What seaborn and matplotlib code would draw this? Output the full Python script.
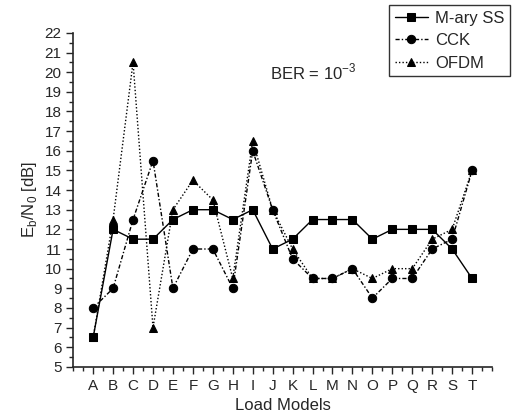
import numpy as np
import pandas as pd
import matplotlib
matplotlib.use("Agg")
import matplotlib.pyplot as plt
from matplotlib.ticker import MultipleLocator
import seaborn as sns

# load models on the x axis
models = list("ABCDEFGHIJKLMNOPQRST")

# Eb/N0 [dB]
mary_ss = [6.5, 12, 11.5, 11.5, 12.5, 13, 13, 12.5, 13, 11, 11.5, 12.5, 12.5, 12.5, 11.5, 12, 12, 12, 11, 9.5]
cck = [8, 9, 12.5, 15.5, 9, 11, 11, 9, 16, 13, 10.5, 9.5, 9.5, 10, 8.5, 9.5, 9.5, 11, 11.5, 15]
ofdm = [6.5, 12.5, 20.5, 7, 13, 14.5, 13.5, 9.5, 16.5, 13, 11, 9.5, 9.5, 10, 9.5, 10, 10, 11.5, 12, 15]

series_names = ["M-ary SS", "CCK", "OFDM"]

pos = np.arange(1, len(models) + 1)
df = pd.DataFrame({
    "pos": np.tile(pos, 3),
    "val": mary_ss + cck + ofdm,
    "scheme": np.repeat(series_names, len(models)),
})

sns.set_style("ticks")
plt.rcParams["font.family"] = ["Liberation Sans", "DejaVu Sans"]
plt.rcParams["xtick.direction"] = "out"
plt.rcParams["ytick.direction"] = "out"

fig = plt.figure(figsize=(5.12, 4.16), dpi=100)
ax = fig.add_axes([0.143, 0.118, 0.818, 0.803])

sns.lineplot(data=df, x="pos", y="val", hue="scheme", style="scheme",
             palette={n: "black" for n in series_names},
             markers={"M-ary SS": "s", "CCK": "o", "OFDM": "^"},
             dashes={"M-ary SS": "", "CCK": (3, 1.5, 1, 1.5), "OFDM": (1, 1.5)},
             markersize=6, linewidth=1, markeredgecolor="black",
             ax=ax, legend=True)

ax.set_xlim(0, 21)
ax.set_ylim(5, 22)
ax.set_xticks(pos)
ax.set_xticklabels(models)
ax.xaxis.set_minor_locator(MultipleLocator(0.5))
ax.yaxis.set_major_locator(MultipleLocator(1))
ax.yaxis.set_minor_locator(MultipleLocator(0.5))
ax.tick_params(which="major", length=5, width=1, labelsize=11)
ax.tick_params(which="minor", length=3, width=1)
sns.despine(ax=ax)
ax.spines["left"].set_linewidth(1.2)
ax.spines["bottom"].set_linewidth(1.2)

ax.set_xlabel("Load Models", fontsize=12)
ax.set_ylabel(r"E$_\mathregular{b}$/N$_\mathregular{0}$ [dB]", fontsize=12)
ax.text(0.47, 0.86, r"BER = 10$^\mathregular{-3}$", transform=ax.transAxes, fontsize=12)

leg = ax.legend(title=None, loc="upper right", bbox_to_anchor=(1.043, 1.084),
                frameon=True, fancybox=False, edgecolor="black",
                fontsize=12, handlelength=2.0, handletextpad=0.4,
                borderpad=0.35, labelspacing=0.45, borderaxespad=0)
leg.get_frame().set_linewidth(1)

fig.savefig("out.png", dpi=100)
